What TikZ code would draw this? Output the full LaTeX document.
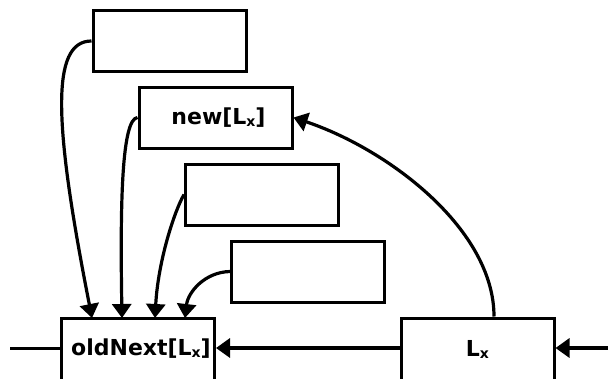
\documentclass[tikz,border=0pt]{standalone}
\usepackage{fontspec}
\setmainfont{DejaVu Sans}
\usetikzlibrary{arrows.meta}
\newcommand{\subx}{\raisebox{-2pt}{\fontsize{14}{14}\selectfont x}}
\tikzset{
  cell/.style={draw, line width=3pt, minimum width=153pt, minimum height=61pt, inner sep=0pt,
    font=\bfseries\fontsize{22}{24}\selectfont},
  link/.style={line width=3.2pt, -{Triangle[width=19pt,length=14pt]}},
  plain/.style={line width=3pt}
}
\begin{document}
\begin{tikzpicture}[x=1pt,y=-1pt]
\useasboundingbox (0,0) rectangle (608,378);
\node[cell] (b1) at (169.5,41) {};
\node[cell] (b2) at (215.5,117.5) {\hspace{6pt}new[L\subx]};
\node[cell] (b3) at (262,194.5) {};
\node[cell] (b4) at (308,271.5) {};
\node[cell, minimum height=62pt] (old) at (138,349) {\hspace{6pt}oldNext[L\subx]};
\node[cell, minimum height=62pt] (lx) at (477.5,349) {L\subx};
\coordinate (lin) at (10,348);
\coordinate (rin) at (608,348);
\coordinate (t1) at (92,318);
\coordinate (t2) at (122,318);
\coordinate (t3) at (155,318);
\coordinate (t4) at (185,318);
\draw[plain] (lin) -- (old.west |- lin);
\draw[link] (lx.west |- lin) -- (old.east |- lin);
\draw[link] (rin) -- (lx.east |- rin);
\draw[link] (b1.west) .. controls (50,41) and (54,125) .. (t1);
\draw[link] (b2.west) .. controls (122,119) and (120,200) .. (t2);
\draw[link] (b3.west) .. controls (174,212) and (158,262) .. (t3);
\draw[link] (b4.west) .. controls (205,272) and (188,292) .. (t4);
\draw[link] (lx.north -| 494,0) .. controls (494,230) and (390,150) .. (b2.east);
\end{tikzpicture}
\end{document}
